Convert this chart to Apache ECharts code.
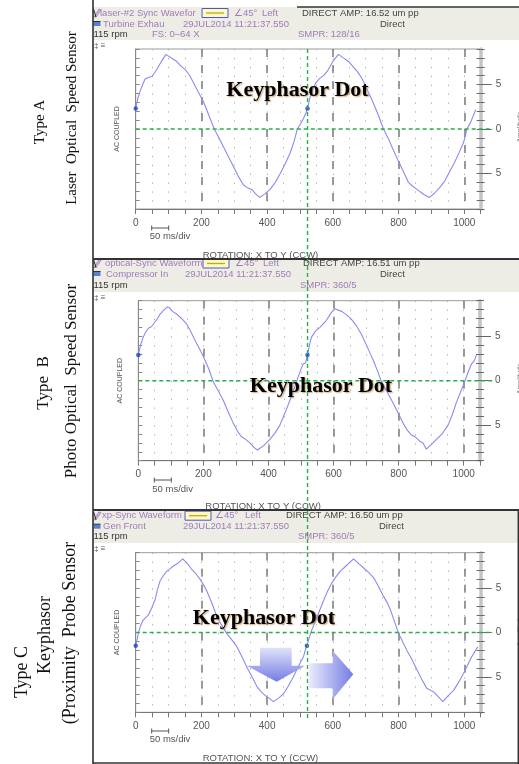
<!DOCTYPE html>
<html><head><meta charset="utf-8">
<script src="https://cdn.jsdelivr.net/npm/echarts@6/dist/echarts.min.js"></script>
<style>html,body{margin:0;padding:0;background:#fff}#c{width:519px;height:764px}</style>
</head><body><div id="c"></div>
<script>
// ---------------- DATA ----------------
const timeA = [0,6,13,20,28,38,49,57,64,75,85,92,100,112,125,137,150,163,176,190,206,222,239,252,267,282,297,312,328,340,353,365,377,393,409,425,440,455,470,482,492,502,511,518,523,530,538,548,560,572,585,600,617,632,648,662,676,690,705,720,738,754,768,782,798,815,830,845,860,878,894,910,925,940,955,970,985,998,1008,1020,1035];
const ampA  = [2.3,3.4,4.2,4.9,5.6,5.8,5.9,6.3,6.7,7.4,8.0,8.4,8.2,7.9,7.6,7.1,6.7,6.1,5.2,4.2,3.1,1.6,0.0,-0.9,-2.0,-3.1,-4.2,-5.3,-6.3,-6.6,-6.8,-7.3,-7.7,-7.3,-6.8,-6.0,-5.0,-3.9,-2.7,-1.4,0.0,0.6,1.2,1.8,2.3,3.5,4.4,5.2,5.7,6.0,6.6,7.6,8.4,8.0,7.6,7.0,6.4,5.6,4.4,3.2,1.6,0.0,-1.0,-2.2,-3.5,-4.8,-6.0,-6.5,-6.9,-7.4,-7.7,-7.2,-6.6,-5.9,-4.8,-3.8,-2.6,-1.5,0.0,0.8,2.2];
const timeB = [0,7,15,23,31,41,51,59,67,78,89,96,105,118,133,148,163,179,192,205,218,230,245,261,276,292,305,317,330,343,355,366,385,404,420,435,450,466,480,491,500,507,514,520,526,532,545,558,568,578,592,604,610,625,640,655,670,686,701,712,722,735,747,765,783,799,814,827,839,850,865,875,885,900,916,933,952,965,977,990,1003,1014,1024,1032,1039];
const ampB  = [2.9,4.0,4.9,5.5,5.9,6.1,6.6,7.0,7.5,7.9,8.3,8.2,7.8,7.5,7.0,6.4,5.4,4.2,3.3,2.3,1.2,-0.1,-1.1,-2.2,-3.5,-4.8,-5.7,-6.3,-6.6,-7.0,-7.5,-7.8,-7.3,-6.6,-5.9,-5.0,-3.7,-2.2,-0.8,0.4,1.3,1.9,2.0,2.9,4.0,4.9,5.6,6.0,6.4,6.8,7.6,8.1,8.3,7.8,7.4,6.9,6.2,5.2,4.0,3.1,2.3,1.1,-0.1,-1.3,-2.5,-3.7,-4.8,-5.6,-6.1,-6.3,-6.8,-7.0,-7.7,-7.2,-6.6,-6.0,-5.0,-3.8,-2.5,-1.3,-0.1,1.0,1.9,2.2,2.9];
const timeC = [0,8,15,23,31,39,49,59,66,74,84,94,105,115,128,143,157,171,184,196,206,216,232,247,262,277,292,308,323,338,354,369,382,394,406,419,435,450,465,480,495,511,516,521,528,536,548,561,572,582,590,597,610,622,640,652,663,678,693,708,724,739,754,765,775,788,800,812,825,840,856,871,886,897,907,920,935,952,968,983,998,1010,1023,1033,1041];
const ampC  = [-1.5,-0.1,0.8,1.4,1.7,2.0,2.8,3.7,4.8,5.8,6.4,6.9,7.2,7.5,7.8,8.3,7.8,7.1,6.6,6.0,5.4,4.7,3.3,1.8,0.8,-0.1,-0.8,-1.6,-2.7,-3.9,-5.0,-6.1,-6.7,-7.1,-7.4,-7.8,-7.4,-6.9,-6.0,-5.0,-3.8,-2.7,-2.0,-1.5,-0.6,0.3,1.4,2.6,3.6,4.5,5.1,5.6,6.3,6.9,7.5,7.9,8.3,7.8,7.3,6.8,6.2,5.2,4.1,3.4,2.6,1.2,-0.1,-1.0,-2.0,-3.0,-4.2,-5.3,-6.3,-6.5,-6.7,-7.2,-7.8,-7.1,-6.5,-5.6,-4.6,-3.7,-2.7,-2.1,-1.6];
const dotsA = [[0,2.3],[523,2.3]];
const dotsB = [[0,2.9],[520,2.9]];
const dotsC = [[0,-1.5],[521,-1.5]];
const xTickLabels = [0,200,400,600,800,1000];
const yTickLabels = [-5,0,5];
const keyphasorTime = 523;
const X_MAX = 1050;
const ampMin = -9, ampMax = 9;

// ---------------- LAYOUT ----------------
const FONT = '"Liberation Sans", Arial, sans-serif';
const SERIF = '"Liberation Serif", "Times New Roman", serif';
const PURPLE = '#a07cbc', DARK = '#444';
const gridRects = [
  {left:135.7, top:49, w:345, h:160},
  {left:138.3, top:300.7, w:341.7, h:160},
  {left:135.7, top:552.7, w:345, h:159.6}
];
const panels = [
  {t:timeA, a:ampA, dots:dotsA},
  {t:timeB, a:ampB, dots:dotsB},
  {t:timeC, a:ampC, dots:dotsC}
];

const chart = echarts.init(document.getElementById('c'), null, {renderer:'canvas'});
const grids=[], xAxes=[], yAxes=[], series=[], idx=[];
panels.forEach((p,i)=>{
  const r = gridRects[i];
  const g0 = grids.length;
  grids.push({left:r.left, top:r.top, width:r.w, height:r.h, show:true, borderColor:'#9a9a9a', borderWidth:1, backgroundColor:'#fff'});
  grids.push({left:r.left, top:r.top, width:r.w, height:r.h, show:false});
  grids.push({left:r.left, top:r.top, width:r.w, height:r.h, show:false});
  const xMain = xAxes.length;
  xAxes.push({type:'value', gridIndex:g0, position:'bottom', min:0, max:X_MAX, interval:50,
    axisLine:{show:true, onZero:false, lineStyle:{color:'#777', width:1}},
    axisTick:{show:true, length:5, lineStyle:{color:'#777'}},
    axisLabel:{color:'#555', fontSize:10, fontFamily:FONT, margin:9, hideOverlap:false,
      formatter: v => xTickLabels.includes(v) ? String(v) : ''},
    splitLine:{show:true, lineStyle:{color:'#b4b4b4', width:1, type:[1.4,7.5]}}});
  xAxes.push({type:'value', gridIndex:g0, position:'top', min:0, max:X_MAX, interval:200,
    axisLine:{show:false, onZero:false}, axisTick:{show:false}, axisLabel:{show:false},
    splitLine:{show:true, showMinLine:false, showMaxLine:false, lineStyle:{color:'#7a7a7a', width:1.5, type:[8,8]}}});
  xAxes.push({type:'value', gridIndex:g0+1, min:0, max:X_MAX, show:false, axisLine:{onZero:false}});
  xAxes.push({type:'value', gridIndex:g0+2, min:0, max:X_MAX, show:false, axisLine:{onZero:false}});
  const yL = yAxes.length;
  yAxes.push({type:'value', gridIndex:g0, position:'left', min:ampMin, max:ampMax, interval:1,
    axisLine:{show:true, onZero:false, lineStyle:{color:'#888'}},
    axisTick:{show:true, inside:true, length:4, lineStyle:{color:'#888'}},
    axisLabel:{show:false}, splitLine:{show:false},
    name:'AC COUPLED', nameLocation:'middle', nameGap:15, nameRotate:90,
    nameTextStyle:{fontSize:7, color:'#555', fontFamily:FONT}});
  yAxes.push({type:'value', gridIndex:g0, position:'right', min:ampMin, max:ampMax, interval:1,
    axisLine:{show:true, onZero:false, lineStyle:{color:'#c4c4c4', width:3.5}},
    axisTick:{show:true, length:4, lineStyle:{color:'#666'}},
    axisLabel:{show:false}, splitLine:{show:false}});
  yAxes.push({type:'value', gridIndex:g0+1, position:'right', min:ampMin, max:ampMax, interval:1,
    axisLine:{show:false, onZero:false}, axisTick:{show:true, inside:true, length:4, lineStyle:{color:'#666'}},
    axisLabel:{show:false}, splitLine:{show:false}});
  yAxes.push({type:'value', gridIndex:g0+2, position:'right', min:ampMin, max:ampMax, interval:1,
    axisLine:{show:false, onZero:false},
    axisTick:{show:true, length:11, customValues:yTickLabels, lineStyle:{color:'#666'}},
    axisLabel:{show:true, customValues:yTickLabels, margin:15, color:'#555', fontSize:10, fontFamily:FONT,
      formatter: v => String(Math.abs(v))},
    splitLine:{show:false}});
  series.push({type:'line', xAxisIndex:xMain, yAxisIndex:yL, data:p.t.map((t,k)=>[t,p.a[k]]),
    showSymbol:false, symbol:'none', lineStyle:{color:'#8a8af2', width:1.1}, z:3});
  series.push({type:'scatter', xAxisIndex:xMain, yAxisIndex:yL, data:p.dots, symbolSize:4.5,
    itemStyle:{color:'#1f3fd0'}, z:6});
  idx.push({xMain, yL});
});

chart.setOption({animation:false, backgroundColor:'#fff', grid:grids, xAxis:xAxes, yAxis:yAxes, series});

// ---------------- ANNOTATIONS ----------------
const G = [];
function txt(x, y, s, o) {
  o = o || {};
  G.push({type:'text', x:x, y:y, rotation:o.rot||0, z:o.z||110,
    style:{text:s, x:0, y:0, fill:o.fill||DARK, font:o.font||('9.5px '+FONT),
      textAlign:o.align||'left', textVerticalAlign:'middle', align:o.align||'left', verticalAlign:'middle',
      textShadowColor:o.shadow||'transparent', textShadowBlur:o.shadow?1.5:0,
      textShadowOffsetX:o.shadow?1.2:0, textShadowOffsetY:o.shadow?1.2:0}});
}
function line(x1,y1,x2,y2,stroke,w,z,dash){
  G.push({type:'line', z:z||105, shape:{x1,y1,x2,y2}, style:{stroke, lineWidth:w, lineDash:dash||null}});
}
function rect(x,y,w,h,fill,z,stroke){
  G.push({type:'rect', z:z||100, shape:{x,y,width:w,height:h}, style:{fill, stroke:stroke||null, lineWidth:1}});
}

const headers = [
  {bg:[7,40], rows:[13,24,34], r1:['laser-#2 Sync Wavefor',100,202,234,262,'DIRECT AMP: 16.52 um pp',302],
   r2:['Turbine Exhau',103,183,380], r3:[['FS: 0\u201364 X',152],['SMPR: 128/16',298]]},
  {bg:[260,292], rows:[263.5,274,285], r1:['optical-Sync Waveform',105,203,235,263,'DIRECT AMP: 16.51 um pp',303],
   r2:['Compressor In',106,185,380], r3:[['SMPR: 360/5',300]]},
  {bg:[511,543], rows:[515.7,526.7,536.7], r1:['xp-Sync Waveform',102,185,215,245,'DIRECT AMP: 16.50 um pp',286],
   r2:['Gen Front',103,183,379], r3:[['SMPR: 360/5',298]]}
];
headers.forEach(h=>{
  rect(93, h.bg[0], 426, h.bg[1]-h.bg[0], '#eeede5', 100);
  const [ya,yb,yc] = h.rows;
  G.push({type:'polygon', z:106, shape:{points:[[94,ya+4],[96,ya+4],[101,ya-3],[99,ya-4]]}, style:{fill:'#c9b7e0', stroke:'#8a6aa8', lineWidth:0.6}});
  line(93.5, ya-4, 96, ya+4, '#222', 1, 107);
  rect(93.5, yb-2.5, 7, 4.5, '#5a7fd6', 106);
  line(93.5, yb-2.5, 100.5, yb-2.5, '#333', 1, 107);
  txt(h.r1[1], ya, h.r1[0], {fill:PURPLE});
  rect(h.r1[2], ya-4.5, 26, 9, '#fdf8c4', 106, '#4a58d0');
  line(h.r1[2]+4, ya, h.r1[2]+22, ya, '#c2ab10', 1.3, 107);
  txt(h.r1[3], ya, '\u222045\u00b0', {fill:PURPLE});
  txt(h.r1[4], ya, 'Left', {fill:PURPLE});
  txt(h.r1[6], ya, h.r1[5], {fill:DARK});
  txt(h.r2[1], yb, h.r2[0], {fill:PURPLE});
  txt(h.r2[2], yb, '29JUL2014 11:21:37.550', {fill:PURPLE});
  txt(h.r2[3], yb, 'Direct', {fill:DARK});
  txt(93.5, yc, '115 rpm', {fill:'#333'});
  h.r3.forEach(r=>txt(r[1], yc, r[0], {fill:PURPLE}));
  txt(94, h.bg[1]+5.5, '\u2021 \u2261', {fill:'#555', font:'8px '+FONT});
});

const footers = [{bar:228, ms:236, rot:255}, {bar:480, ms:489, rot:506.5}, {bar:731, ms:739.5, rot:758}];
footers.forEach((f,i)=>{
  const x0 = gridRects[i].left + 16;
  line(x0, f.bar, x0+17, f.bar, '#555', 1, 105);
  line(x0, f.bar-2.5, x0, f.bar+2.5, '#555', 1, 105);
  line(x0+17, f.bar-2.5, x0+17, f.bar+2.5, '#555', 1, 105);
  txt(x0-2, f.ms, '50 ms/div', {fill:'#555'});
  txt(gridRects[i].left + 67, f.rot, 'ROTATION: X TO Y (CCW)', {fill:'#555'});
  txt(520, gridRects[i].top + 78, 'Amplitude', {rot:Math.PI/2, align:'center', fill:'#777', font:'7px '+FONT});
});

line(93, 0, 93, 764, '#222', 1.5, 115);
line(297, 7, 519, 7, '#333', 1.5, 115);
line(93, 259, 519, 259, '#333', 2, 115);
line(93, 510, 519, 510, '#333', 2, 115);
line(93, 763, 519, 763, '#333', 1.5, 115);
line(518.3, 510, 518.3, 764, '#333', 1.5, 115);

const titleFontA = '15px ' + SERIF, titleFontB = '17px ' + SERIF, titleFontC = '18px ' + SERIF;
txt(40, 122, 'Type A', {rot:Math.PI/2, align:'center', fill:'#111', font:titleFontA});
txt(72, 118, 'Laser  Optical  Speed Sensor', {rot:Math.PI/2, align:'center', fill:'#111', font:titleFontA});
txt(44, 383, 'Type  B', {rot:Math.PI/2, align:'center', fill:'#111', font:titleFontB});
txt(72, 381, 'Photo Optical  Speed Sensor', {rot:Math.PI/2, align:'center', fill:'#111', font:titleFontB});
txt(22, 672, 'Type C', {rot:Math.PI/2, align:'center', fill:'#111', font:titleFontC});
txt(45, 635, 'Keyphasor', {rot:Math.PI/2, align:'center', fill:'#111', font:titleFontC});
txt(70, 633, '(Proximity  Probe Sensor', {rot:Math.PI/2, align:'center', fill:'#111', font:titleFontC});

const GREEN = '#27b048';
idx.forEach((ix,i)=>{
  const p0 = chart.convertToPixel({xAxisIndex:ix.xMain, yAxisIndex:ix.yL}, [0, 0]);
  line(p0[0], p0[1], 493, p0[1], GREEN, 1.4, 120, [4,3]);
});
const kTop = chart.convertToPixel({xAxisIndex:idx[0].xMain, yAxisIndex:idx[0].yL}, [keyphasorTime, ampMax]);
const kBot = chart.convertToPixel({xAxisIndex:idx[2].xMain, yAxisIndex:idx[2].yL}, [keyphasorTime, ampMin]);
line(kTop[0], kTop[1], kTop[0], kBot[1] + 8, GREEN, 1.4, 120, [4,3]);

const kFont = 'bold 22px ' + SERIF;
const kShadow = 'rgba(170,110,40,0.6)';
txt(297.5, 90, 'Keyphasor Dot', {align:'center', fill:'#000', font:kFont, shadow:kShadow, z:130});
txt(321, 386, 'Keyphasor Dot', {align:'center', fill:'#000', font:kFont, shadow:kShadow, z:130});
txt(264, 618, 'Keyphasor Dot', {align:'center', fill:'#000', font:kFont, shadow:kShadow, z:130});

G.push({type:'polygon', z:125, shape:{points:[[260,647.7],[291.7,647.7],[291.7,665.7],[305,665.7],[276.7,681.7],[246.7,665.7],[260,665.7]]},
  style:{fill:new echarts.graphic.LinearGradient(0,0,0,1,[{offset:0,color:'#e0e3fa'},{offset:1,color:'#767ce4'}])}});
G.push({type:'polygon', z:125, shape:{points:[[308.3,663.3],[332.7,663.3],[332.7,650.7],[353.3,674.3],[332.7,699.3],[332.7,688.3],[308.3,688.3]]},
  style:{fill:new echarts.graphic.LinearGradient(0,0,1,0,[{offset:0,color:'#eceefc'},{offset:1,color:'#757be4'}])}});

chart.setOption({graphic:G});
</script>
</body></html>
